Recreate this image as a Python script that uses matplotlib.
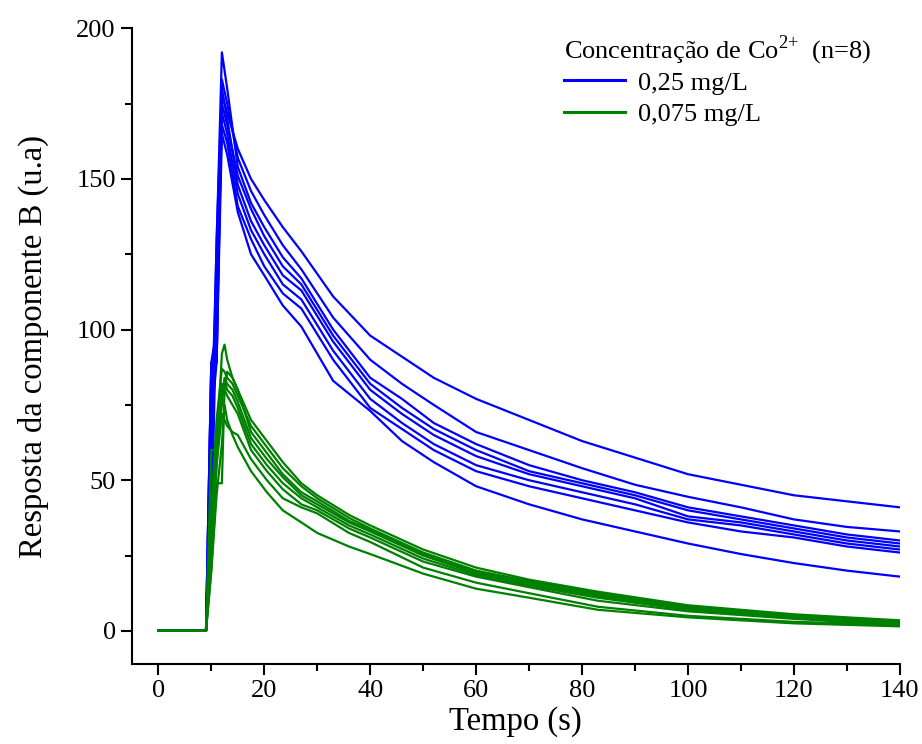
import matplotlib
matplotlib.use('Agg')
import matplotlib.pyplot as plt
import numpy as np
from matplotlib.ticker import MultipleLocator

plt.rcParams['font.family'] = ['Liberation Serif', 'DejaVu Serif']
plt.rcParams['mathtext.fontset'] = 'custom'
plt.rcParams['mathtext.rm'] = 'Liberation Serif'

# tempos (s) e respostas
t_azul = [0, 9, 10, 11, 12, 13, 15, 17.5, 20, 23.5, 27, 33, 40, 46, 52, 60,
          70, 80, 90, 100, 110, 120, 130, 140]
azul_1 = [0, 0, 60, 120, 178, 172, 160, 150, 143, 134, 126, 111, 98, 91, 84, 77,
          70, 63, 57.5, 52, 48.5, 45, 43, 41]
azul_2 = [0, 0, 89, 89, 183, 175, 157, 146, 138, 128, 120, 104, 90, 82, 75, 66,
          60, 54, 48.5, 44.5, 41, 37, 34.5, 33]
azul_3 = [0, 0, 64, 128, 192, 180, 154, 142, 134, 124, 117, 100, 84, 77, 69, 62,
          55, 50, 46, 41, 38, 35, 32, 30]
azul_4 = [0, 0, 89, 89, 175, 168, 151, 140, 131, 121, 115, 98, 82, 74, 67, 60,
          53, 49, 45, 40, 37, 34, 31, 29]
azul_5 = [0, 0, 50, 130, 180, 170, 148, 136, 128, 118, 113, 96, 80, 72, 65, 58,
          52, 48, 44, 38, 36, 33, 30, 28]
azul_6 = [0, 0, 89, 100, 172, 165, 145, 133, 125, 115, 110, 93, 77, 69, 62, 55,
          50, 46, 42, 37, 35, 32, 29, 27]
azul_7 = [0, 0, 30, 110, 168, 162, 141, 130, 121, 112, 107, 90, 74, 67, 60, 53,
          48, 44, 40, 36, 33, 31, 28, 26]
azul_8 = [0, 0, 70, 89, 165, 158, 139, 125, 118, 108, 101, 83, 73, 63, 56, 48,
          42, 37, 33, 29, 25.5, 22.5, 20, 18]

t_verde = [0, 9, 10, 11, 12, 12.5, 13, 14, 15, 17.5, 20.5, 23.5, 27, 30, 36, 40,
           50, 60, 70, 83, 100, 120, 140]
verde_1 = [0, 0, 30, 60, 92, 95, 90, 84, 80, 70, 63, 56, 49, 45, 38.5, 35,
           27, 21, 17, 13, 8.5, 5.5, 3.5]
verde_2 = [0, 0, 40, 70, 87, 86, 84, 82, 78, 68, 61, 54, 48, 44, 37.5, 34,
           26, 20, 16.5, 12.5, 8, 5, 3]
verde_3 = [0, 0, 20, 49, 49, 80, 86, 84, 80, 66, 59, 52, 46, 43, 36.5, 33.5,
           25.5, 19.5, 16, 12, 7.5, 5, 3]
verde_4 = [0, 0, 60, 60, 75, 84, 82, 80, 76, 64, 57, 51, 45, 42, 36, 33,
           25, 19, 15.5, 11.5, 7, 4.5, 2.5]
verde_5 = [0, 0, 25, 55, 80, 83, 80, 78, 74, 62, 55, 49, 44, 41, 35, 32,
           24, 18.5, 15, 11, 7, 4.5, 2.5]
verde_6 = [0, 0, 35, 65, 82, 80, 78, 75, 72, 60, 53, 47, 42, 40, 34, 31,
           23, 18, 14.5, 10, 6.5, 4, 2]
verde_7 = [0, 0, 30, 55, 72, 70, 68, 66, 65, 57, 50, 44, 41, 39, 32.5, 29.5,
           21, 16, 12.5, 8, 5, 3, 2]
verde_8 = [0, 0, 20, 45, 62, 75, 70, 65, 61, 53, 46, 40, 36, 32.5, 28, 25.5,
           19, 14, 11, 7, 4.5, 2.5, 1.5]

azuis = [azul_1, azul_2, azul_3, azul_4, azul_5, azul_6, azul_7, azul_8]
verdes = [verde_1, verde_2, verde_3, verde_4, verde_5, verde_6, verde_7, verde_8]

fig = plt.figure(figsize=(9.22, 7.44), dpi=100)
ax = fig.add_axes([0.143, 0.1075, 0.833, 0.8545])

for i, y in enumerate(azuis):
    ax.plot(t_azul, y, color='#0000ff', lw=1.6,
            label='0,25 mg/L' if i == 0 else '_nolegend_')
for i, y in enumerate(verdes):
    ax.plot(t_verde, y, color='#008000', lw=1.6,
            label='0,075 mg/L' if i == 0 else '_nolegend_')

ax.set_xlim(-5, 140)
ax.set_ylim(-11, 200)
ax.xaxis.set_major_locator(MultipleLocator(20))
ax.xaxis.set_minor_locator(MultipleLocator(10))
ax.yaxis.set_major_locator(MultipleLocator(50))
ax.yaxis.set_minor_locator(MultipleLocator(25))
ax.tick_params(which='both', direction='out', width=1.5, labelsize=19)
ax.tick_params(which='major', length=8)
ax.tick_params(which='minor', length=5)
for s in ['top', 'right']:
    ax.spines[s].set_visible(False)
for s in ['left', 'bottom']:
    ax.spines[s].set_linewidth(1.5)

ax.set_xlabel('Tempo (s)', fontsize=23.5, labelpad=3)
ax.set_ylabel('Resposta da componente B (u.a)', fontsize=23.5, labelpad=20)

leg = ax.legend(title='Concentração de Co$^{\\text{2+}}$  (n=8)', loc='upper left',
                bbox_to_anchor=(0.553, 1.004), frameon=False, fontsize=19,
                title_fontsize=19, alignment='left', handlelength=2.3,
                handletextpad=0.5, labelspacing=0.3, borderaxespad=0.0,
                borderpad=0.3)
leg._legend_box.sep = 3
for line in leg.get_lines():
    line.set_linewidth(2.2)

fig.savefig('out.png', dpi=100)
